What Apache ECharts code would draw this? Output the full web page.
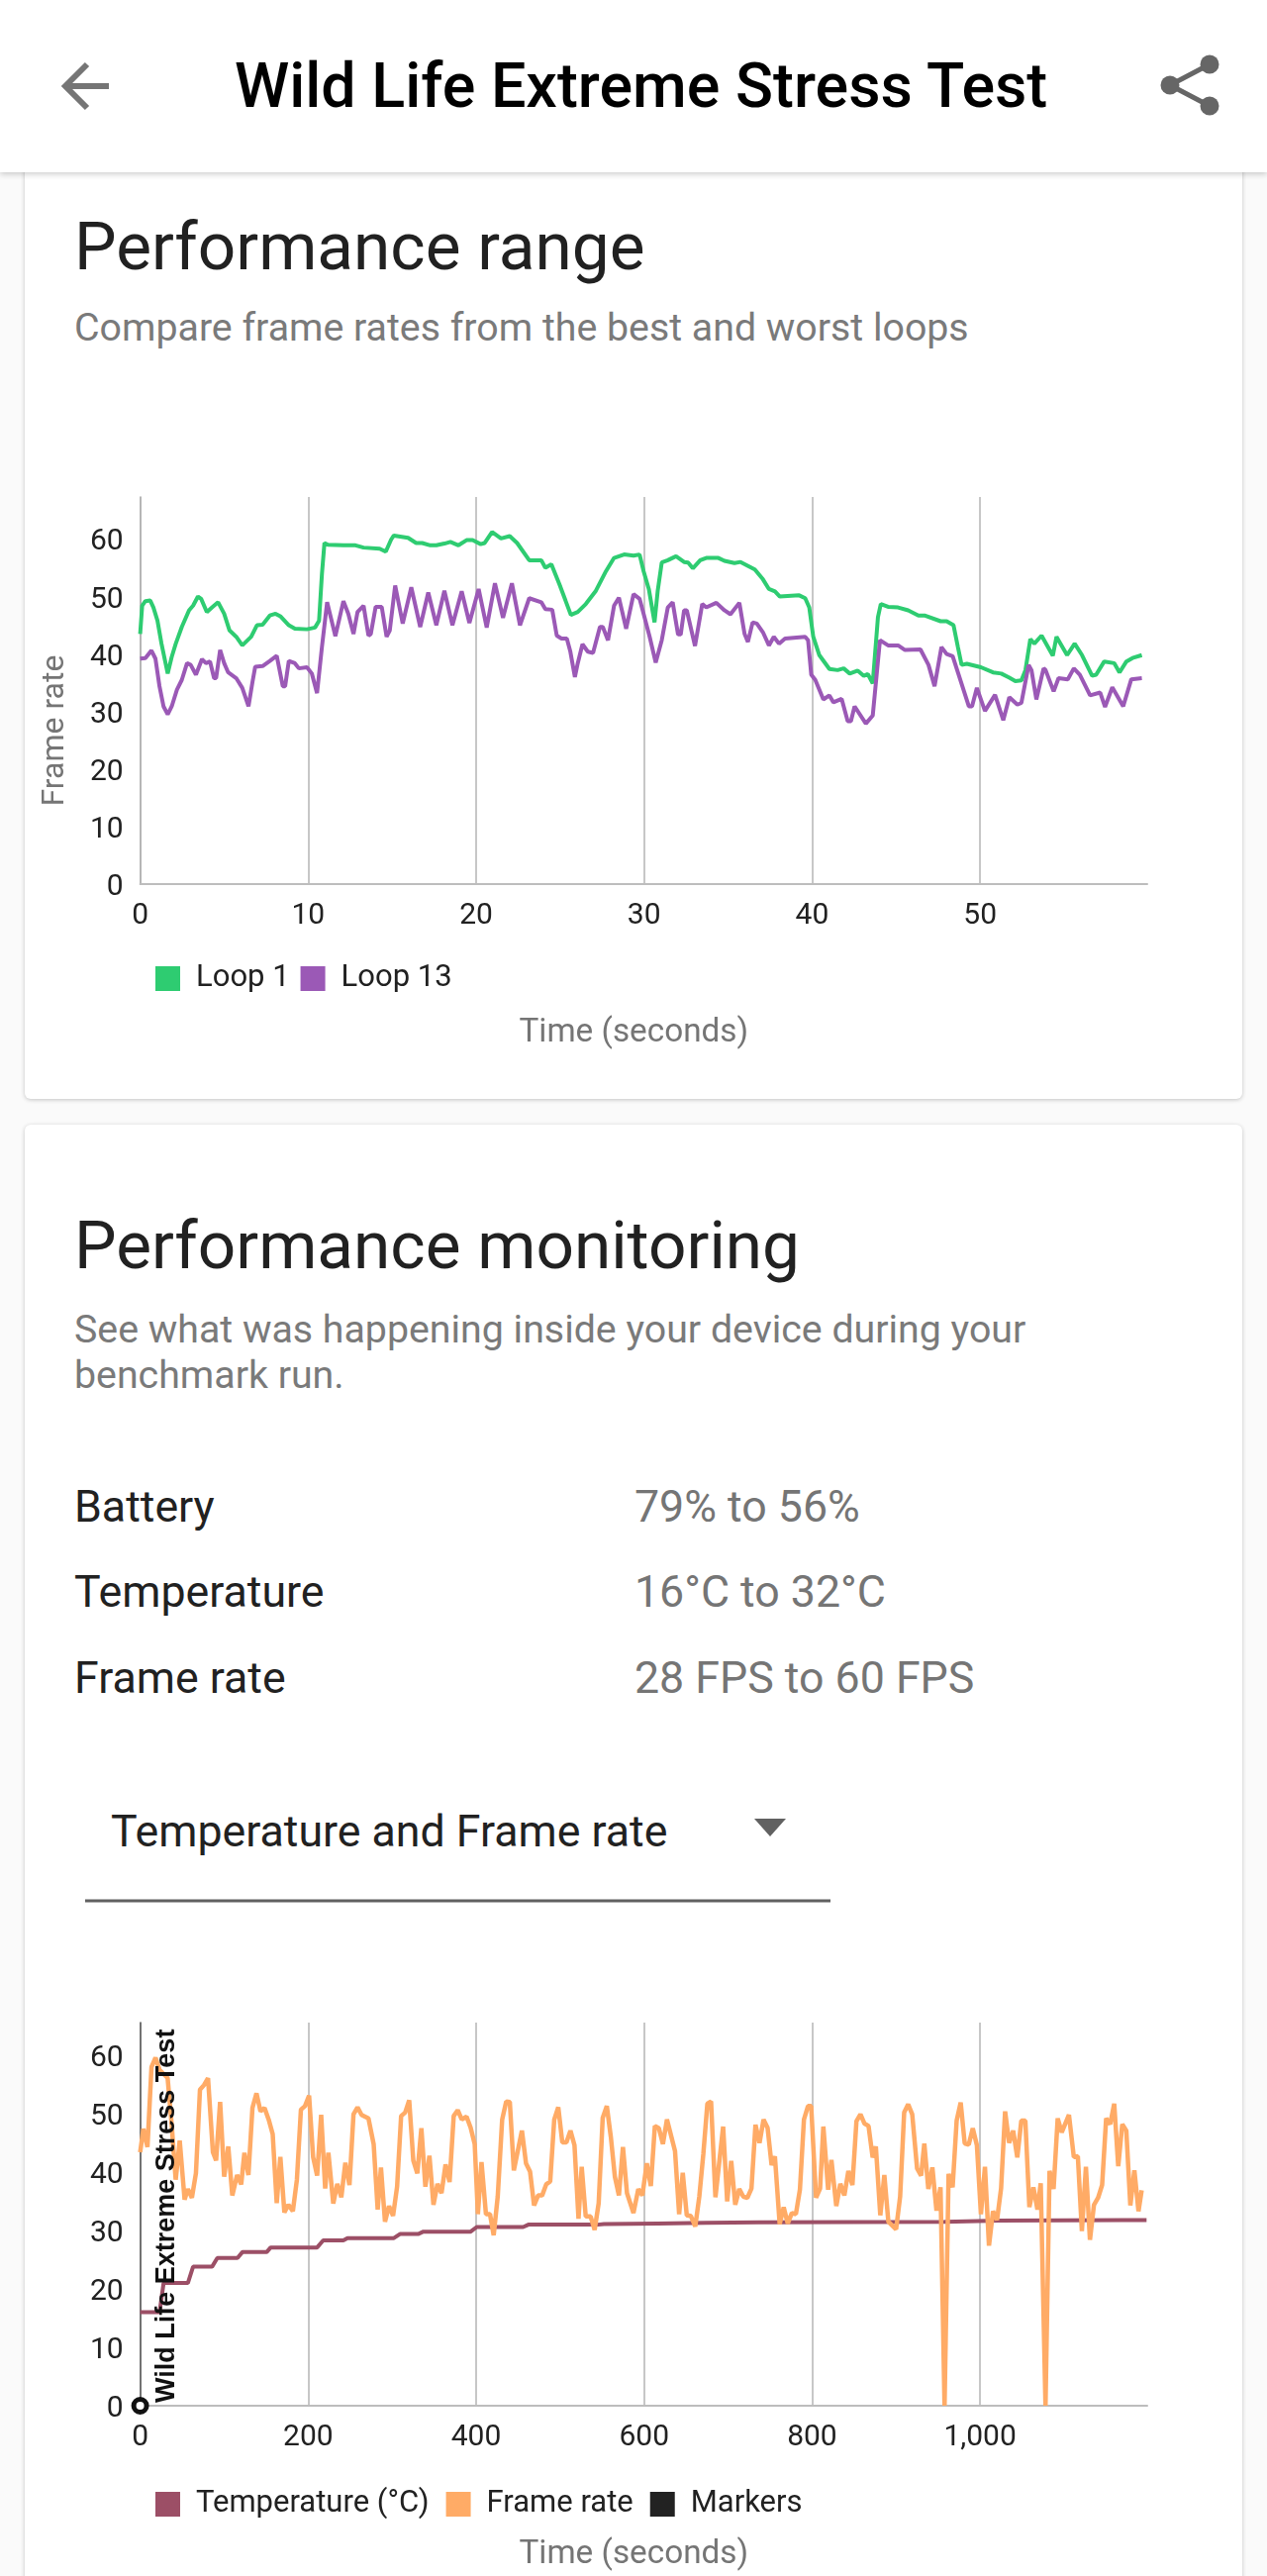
<!DOCTYPE html>
<html>
<head>
<meta charset="utf-8">
<script src="https://cdn.jsdelivr.net/npm/echarts@6/dist/echarts.min.js"></script>
<style>
html,body{margin:0;padding:0;width:1280px;height:2602px;overflow:hidden;background:#fafafa;font-family:Roboto,sans-serif;}
.card{position:absolute;left:25px;width:1230px;background:#fff;border-radius:6px;box-shadow:0 1px 4px rgba(0,0,0,.22);}
.hdr{position:absolute;left:0;top:0;width:1280px;height:174px;background:#fff;box-shadow:0 2px 6px rgba(0,0,0,.2);z-index:5;}
.t{position:absolute;line-height:1;white-space:nowrap;}
.h1{font-size:67.5px;color:#212121;left:75px;}
.sub{font-size:39.3px;color:#7a7a7a;left:75px;}
.k{font-size:44.7px;color:#212121;left:75px;}
.v{font-size:44.7px;color:#757575;left:641px;}
.c{position:absolute;left:0;width:1280px;}
</style>
</head>
<body>
<div class="card" style="top:120px;height:990px;"></div>
<div class="card" style="top:1136px;height:1500px;"></div>
<div class="hdr">
  <svg style="position:absolute;left:0;top:0" width="1280" height="174">
    <path d="M110 87H68M88 65L66 87L88 109" fill="none" stroke="#757575" stroke-width="6"/>
    <path d="M1222 65L1182 86L1222 107" fill="none" stroke="#666" stroke-width="5"/>
    <circle cx="1222" cy="65" r="9.5" fill="#666"/><circle cx="1182" cy="86" r="9.5" fill="#666"/><circle cx="1222" cy="107" r="9.5" fill="#666"/>
  </svg>
  <div class="t" style="left:237px;top:56px;font-size:62.8px;font-weight:500;color:#000;">Wild Life Extreme Stress Test</div>
</div>
<div class="t h1" style="top:215px;">Performance range</div>
<div class="t sub" style="top:312px;">Compare frame rates from the best and worst loops</div>
<div class="t h1" style="top:1224px;">Performance monitoring</div>
<div class="t sub" style="top:1324px;">See what was happening inside your device during your</div>
<div class="t sub" style="top:1370px;">benchmark run.</div>
<div class="t k" style="top:1499.5px;">Battery</div><div class="t v" style="top:1499.5px;">79% to 56%</div>
<div class="t k" style="top:1585.5px;">Temperature</div><div class="t v" style="top:1585.5px;">16°C to 32°C</div>
<div class="t k" style="top:1672.5px;">Frame rate</div><div class="t v" style="top:1672.5px;">28 FPS to 60 FPS</div>
<div class="t k" style="left:112px;top:1827.5px;">Temperature and Frame rate</div>
<svg style="position:absolute;left:0;top:0" width="1280" height="1930"><path d="M762 1837H794L778 1855Z" fill="#616161"/><rect x="86" y="1918.5" width="753" height="3" fill="#616161"/></svg>
<div id="c1" class="c" style="top:480px;height:630px;"></div>
<div id="c2" class="c" style="top:2020px;height:582px;"></div>
<script>
const yTicks=[0,10,20,30,40,50,60];
const loop1Time=[0,.12,.31,.6,.79,1.03,1.27,1.64,1.88,2.12,2.48,2.91,3.15,3.44,3.63,3.97,4.28,4.64,5,5.32,5.72,6.08,6.61,6.95,7.29,7.72,8.06,8.37,8.85,9.21,9.93,10.41,10.65,10.82,10.97,11.18,12.1,12.82,13.3,14.26,14.62,14.94,15.1,15.95,16.43,16.79,17.27,17.63,18.11,18.47,18.95,19.43,19.79,20.27,20.51,20.95,21.48,22,22.44,23.16,23.88,24.12,24.48,24.96,25.32,25.64,26.05,26.53,27.13,27.73,28.21,28.81,29.37,29.73,29.97,30.28,30.62,30.81,31.05,31.41,31.9,32.38,32.62,32.9,33.34,33.7,34.42,34.78,35.38,35.74,36.59,37.07,37.43,37.79,38.08,39.23,39.59,39.83,40.07,40.43,41.03,41.52,41.88,42.24,42.72,43.08,43.32,43.61,43.92,44.09,44.52,45.12,45.72,46.33,46.69,47.65,48.01,48.42,48.68,48.9,49.21,50.05,50.77,51.26,51.74,52.1,52.46,52.7,52.99,53.23,53.66,54.33,54.55,55.18,55.63,56.07,56.67,56.91,57.39,57.99,58.3,58.71,59.07,59.63];
const loop1Rate=[43.5,48.4,49.2,49.3,48.1,45.8,41.8,36.6,39.5,41.8,44.7,47.6,48.4,50,49.6,47.3,48.1,49,47,44.1,43,41.5,43,45,45.1,46.7,47,46.5,45,44.4,44.3,44.6,45.8,53.9,59.3,59,58.9,58.9,58.5,58.3,57.8,59.9,60.6,60.2,59.3,59.3,58.9,58.9,59.2,59.5,58.9,59.8,59.8,59.1,59.3,61.2,60.1,60.5,59.3,56.3,56.3,55,55.6,52.1,49.3,46.8,47.3,48.7,51,54.4,56.7,57.3,57.1,57.3,54.4,51.3,45.5,51,55.9,56.3,57,56,55.9,54.9,56.3,56.7,56.7,56.2,55.8,56,54.7,53,51.3,50.9,50,50.2,49.7,48.1,43,39.8,37.4,37.2,37.5,36.6,37.1,36.2,36.5,34.9,46.4,48.7,48.2,48.1,47.6,46.7,46.7,45.7,45.7,45,41.2,38.1,38.3,37.7,36.8,36.6,35.9,35.3,35.4,37.2,42.6,41.8,43.2,39.7,43,39.8,41.8,39.8,36.2,36.4,38.7,38.4,36.8,38.7,39.3,39.8];
const loop13Time=[0,.31,.67,.91,1.15,1.39,1.64,1.88,2.19,2.48,2.79,3.01,3.32,3.68,3.92,4.16,4.4,4.52,4.76,5,5.24,5.72,6.08,6.45,6.69,6.85,7.29,7.72,8.13,8.49,8.63,8.85,9.21,9.45,9.93,10.22,10.53,10.82,11.13,11.62,12.1,12.39,12.7,12.94,13.3,13.59,13.73,14.02,14.38,14.67,14.86,15.18,15.63,16.14,16.67,17.15,17.63,18.11,18.59,19.14,19.6,20.15,20.63,21.12,21.6,22.13,22.61,23.16,23.88,24.12,24.53,24.8,25.08,25.4,25.61,25.88,26.05,26.33,26.65,26.96,27.37,27.54,27.85,28.21,28.5,28.93,29.37,29.73,29.97,30.33,30.69,31.05,31.41,31.7,32.02,32.18,32.38,32.54,33.03,33.46,33.7,34.3,34.78,35.14,35.67,35.98,36.18,36.46,36.71,37.07,37.43,37.72,38.03,38.39,39.59,39.76,39.95,40.19,40.67,41.03,41.27,41.76,42.12,42.31,42.53,43.2,43.61,44.04,44.52,45.12,45.53,46.45,46.93,47.29,47.7,48.01,48.37,49.33,49.52,49.81,50.29,50.89,51.38,51.74,52.22,52.46,52.89,53.06,53.35,53.78,53.9,54.38,54.67,55.22,55.58,55.94,56.55,57.15,57.44,57.87,58.52,59,59.63];
const loop13Rate=[39.2,39.3,40.6,39.2,34.4,30.9,29.5,30.9,33.8,35.5,38.4,38.1,36.4,39.1,38.4,38.7,35.8,35.8,40.7,38.4,36.8,35.8,34.1,30.9,35.2,37.8,37.9,38.8,39.7,34.4,34.4,38.8,38.4,37.5,37.7,36.6,33.2,41.2,49,43.1,49.2,47,43.5,47.3,48.4,43.2,43.5,48.2,48.2,43,44.1,51.9,45.3,51.6,44.7,50.7,45,51,45,50.9,45.4,51.3,44.6,52.3,46.3,52.3,45,49.7,49,47.8,47.7,43.2,42.7,42.7,40.4,36,38.4,41.7,40.4,40.2,44.7,44.7,42.4,48.4,49.8,44.4,50.4,49.6,47,43,38.5,42.4,48.1,49,43.4,43.4,47.6,47.6,41.4,48.7,48.1,48.9,47.6,46.9,48.9,43.5,42.1,45.5,45.3,43.8,41.5,43,41.8,42.7,43,42.4,36.4,35.5,32.1,32.8,31.6,32.2,28.3,28.3,30.9,27.9,29.3,42.4,41.5,41.5,40.7,40.8,38.1,34.4,41.2,40,39.6,30.9,30.9,34.1,30.1,32.9,28.5,32.5,31.2,31.5,38.1,37.2,32.1,37.5,37.2,33.5,35.8,35.6,37.5,36.4,32.8,33.3,30.8,34.2,30.9,35.6,35.8];
const tempTime=[0,23.1,27.9,56.8,63,85.6,91.9,115.9,121.7,150.6,155.4,210.7,217.9,241.9,246.8,302.1,309.3,330.9,337.2,393.5,400.7,456,462.2,545,552.2,616.2,673.9,736.4,957.7,1022.6,1169.3,1198.2];
const tempValue=[16,16,21,21,23.8,23.8,25.3,25.3,26.3,26.3,27.1,27.1,28.3,28.3,28.7,28.7,29.4,29.4,29.8,29.8,30.6,30.6,31,31,31.1,31.2,31.3,31.4,31.5,31.7,31.8,31.8];
const fpsTime=[0,3.8,8.7,13.5,18.3,23.1,32.7,37.5,42.3,47.1,52.9,56.8,61.6,66.4,71.2,76,80.8,86.6,90.4,95.2,100,104.9,109.7,115.4,120.3,124.1,128.9,133.7,138.5,143.3,148.1,153,157.8,162.6,166.9,171.7,176.5,181.8,186.6,191.4,196.2,201.1,205.9,210.7,215.5,220.3,224.1,229.9,234.7,239.5,244.3,249.2,254,258.8,263.6,271.8,278,282.8,286.7,291.5,296.3,301.1,305.9,310.7,315.5,320.3,325.2,330,334.8,339.6,344.4,349.2,354,358.8,363.6,368.4,373.3,378.1,382.9,388.6,393.5,398.3,402.1,406.4,411.7,416.5,420.9,425.7,431,435.8,440.1,444.9,454.5,459.4,464.2,469,473.8,478.6,483.4,488.2,493,497.8,502.6,507.5,512.3,517.1,521.9,525.7,530.5,536.3,541.1,545.9,550.7,555.6,560.4,565.2,570,574.8,579.6,587.3,593.1,597.9,603.2,608,612.8,617.6,622.4,627.2,636.8,641.7,646,650.8,655.6,660.9,665.7,670.5,675.3,679.7,684.9,694.1,698.9,703.7,708.5,713.3,718.1,722.9,727.8,732.6,737.4,742.2,747,751.8,755.7,761.4,766.2,771,775.9,780.7,785.5,790.3,795.1,798.9,804.7,809.5,813.4,819.1,823,828.8,833.6,838.4,843.2,848,852.8,857.6,862.4,867.2,872.1,875.9,881.2,886,890.8,900,904.8,909.6,914.4,919.2,925,929.8,933.6,938.4,943.2,948.1,952.9,957.7,962.5,967.3,972.1,976.9,981.7,986.5,991.3,996.2,1001,1005.8,1010.6,1015.4,1020.2,1025,1029.8,1034.6,1039.4,1044.3,1049.1,1053.9,1058.7,1063.5,1068.3,1072.2,1077.9,1082.7,1087.5,1092.4,1097.2,1105.8,1111.6,1116.4,1121.2,1126,1130.8,1135.6,1140.5,1145.3,1150.1,1154.9,1159.7,1164.5,1169.3,1174.1,1178.9,1183.7,1188.6,1192.4];
const fpsValue=[43.4,47.4,44.3,58,59.6,57.5,56.1,48.2,38.7,45.4,35.3,37.1,35.6,39.8,54.1,54.9,56.1,43.4,42,52,39.2,44.4,36,39.5,37.9,43.3,39.5,51,53.5,50.4,51,49,46.5,34.7,42.6,33.1,34.4,33.3,38.7,50.7,51.3,53.1,42.6,39.4,49.8,37.2,43.3,34.6,38,35.7,41.6,37.8,49.9,51.1,49.8,49.2,44.8,33.6,40.8,31.5,34.2,32.5,37.5,49.6,50.2,52.3,42,39.8,47.5,37.5,42.8,34.4,38,36.4,41.3,38.3,49.6,50.6,49,49.5,47.6,44.8,32.8,41.7,32.8,32.8,29.2,35.8,49,52.1,52,40.3,47.1,41.5,40.1,34.3,36,36,37.9,38.4,49,51.1,45.1,45.1,47.1,44.6,32,40.9,32.4,32.4,30.1,34.7,49.3,51.3,46,39.2,36,44.3,36.4,33,37.1,36,41.5,37.6,47.9,47.5,44.8,49,43.6,32.8,39.9,32.6,32.5,30.7,35.8,43.1,51.7,52.1,35.7,47.8,35,41.9,34.4,37.1,35.8,35.6,37.2,48.1,45,49,47.6,41.2,42.7,31.1,34,31.2,33,32.8,37,49,51.3,51.3,35.6,37.2,47.8,37,42.1,34.2,38,36,40.2,37.8,48.7,49.9,48.3,47.9,42.5,44.4,32.6,39.5,31.5,30.2,35.8,50.2,51.6,49.9,40.6,39.4,44.9,37.1,40.8,33.4,37.4,0,39.7,37.4,48.8,51.9,44.9,44.7,47.5,44.6,32.8,40.9,27.4,33.3,31.8,37.2,50.4,45,47.1,42.5,48.8,48.8,34,37.4,33.6,38.1,0,40.2,37.1,49.2,46.8,49.8,42.6,42.7,29.9,40.9,28.4,34.4,35.6,37.8,49.2,48.2,51.7,41,48.2,47.1,34.3,40.3,33.3,36.9];
const markerTime=[0];
const markerValue=[0];
const markerLabel='Wild Life Extreme Stress Test';
const zip=(a,b)=>a.map((x,i)=>[x,b[i]]);
const FONT='Roboto';
function base(opt){
  return {
    animation:false,
    textStyle:{fontFamily:FONT},
    grid:{left:141.6,width:1017.4,top:opt.top,height:391,containLabel:false},
    legend:{left:157,top:opt.legendTop,padding:0,icon:'rect',itemWidth:25,itemHeight:25,itemGap:opt.gap,
      textStyle:{fontFamily:FONT,fontSize:31,color:'#212121',padding:[0,0,0,11]},data:opt.legend},
    xAxis:{type:'value',min:0,max:opt.xMax,interval:opt.xInt,name:'Time (seconds)',nameLocation:'middle',nameGap:134,
      nameTextStyle:{fontFamily:FONT,fontSize:33.3,color:'#757575',padding:[0,20,0,0]},
      axisLine:{show:true,onZero:false,lineStyle:{color:'#bdbdbd',width:2}},axisTick:{show:false},
      axisLabel:{fontFamily:FONT,fontSize:30,color:'#212121',margin:17,showMaxLabel:false,showMinLabel:true,
        formatter:v=>String(v).replace(/\B(?=(\d{3})+$)/g,',')},
      splitLine:{show:true,showMaxLine:false,showMinLine:false,lineStyle:{color:'#b4b4b4',width:1.5}}},
    yAxis:{type:'value',min:0,max:opt.yMax,interval:10,name:opt.yName,nameLocation:'middle',nameGap:70,
      nameTextStyle:{fontFamily:FONT,fontSize:32,color:'#757575',padding:[0,81,0,0]},
      axisLine:{show:true,onZero:false,lineStyle:{color:opt.yLine,width:1.5}},axisTick:{show:false},
      axisLabel:{margin:17,customValues:yTicks,formatter:v=>'{a|'+v+'}',
        rich:{a:{fontFamily:FONT,fontSize:30,color:'#212121',padding:[7,0,0,0]}}},
      splitLine:{show:false}},
    series:opt.series
  };
}
const line=(name,color,w,d)=>({name,type:'line',data:d,showSymbol:false,symbol:'none',color,lineStyle:{color,width:w},clip:true});
echarts.init(document.getElementById('c1')).setOption(base({
  top:22,legendTop:493,gap:11,xMax:59.95,xInt:10,yMax:67.3,yLine:'#9e9e9e',yName:'Frame rate',
  legend:['Loop 1','Loop 13'],
  series:[line('Loop 1','#2ecc71',4,zip(loop1Time,loop1Rate)),line('Loop 13','#9b59b6',4,zip(loop13Time,loop13Rate))]
}));
echarts.init(document.getElementById('c2')).setOption(base({
  top:23,legendTop:494,gap:17,xMax:1199,xInt:200,yMax:65.6,yLine:'#444',yName:'',
  legend:['Temperature (°C)','Frame rate',{name:'Markers',itemStyle:{color:'#222',borderColor:'#222',borderWidth:0,opacity:1}}],
  series:[line('Temperature (°C)','#9c4f66',4,zip(tempTime,tempValue)),line('Frame rate','#ffab66',4.5,zip(fpsTime,fpsValue)),
    {name:'Markers',type:'scatter',data:zip(markerTime,markerValue),symbol:'circle',symbolSize:13,color:'#222',clip:false,z:5,
     itemStyle:{color:'#fff',borderColor:'#111',borderWidth:5,opacity:1},
     label:{show:true,formatter:markerLabel,position:'inside',rotate:90,align:'left',verticalAlign:'middle',offset:[3,27],
       fontFamily:'Liberation Sans',fontWeight:'bold',fontSize:27,color:'#111'}}]
}));
</script>
</body>
</html>
